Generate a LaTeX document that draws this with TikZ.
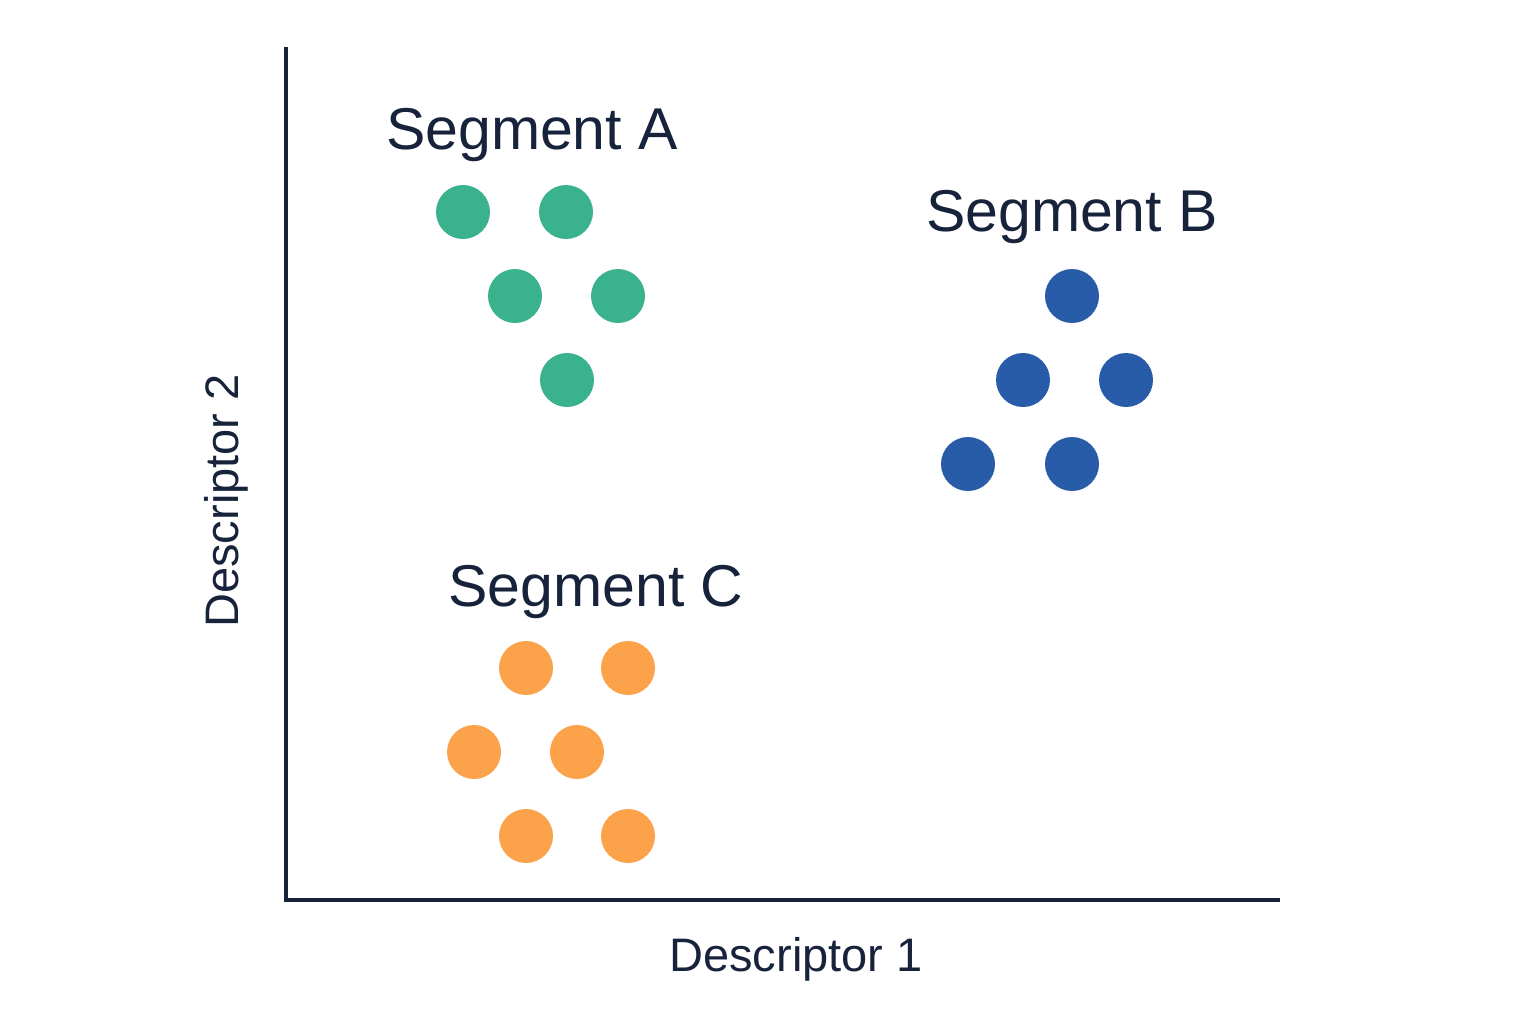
\documentclass[tikz,border=0pt]{standalone}
\usepackage{fontspec}
\setmainfont{Liberation Sans}
\definecolor{ink}{HTML}{17223B}
\definecolor{segA}{HTML}{3BB28E}
\definecolor{segB}{HTML}{285BA8}
\definecolor{segC}{HTML}{FBA24A}
\begin{document}
\begin{tikzpicture}[x=0.5pt,y=-0.5pt,
  dotA/.style={circle,fill=segA,minimum size=27pt,inner sep=0pt},
  dotB/.style={circle,fill=segB,minimum size=27pt,inner sep=0pt},
  dotC/.style={circle,fill=segC,minimum size=27pt,inner sep=0pt},
  seglabel/.style={text=ink,font=\fontsize{29.5}{34}\selectfont,inner sep=0pt},
  axlabel/.style={text=ink,font=\fontsize{23.5}{28}\selectfont,inner sep=0pt},
  axis/.style={draw=ink,line width=1.75pt}]
\useasboundingbox (0,0) rectangle (1536,1024);
\coordinate (top) at (286,47);
\coordinate (origin) at (286,900);
\coordinate (right) at (1280,900);
\draw[axis,line cap=butt] (top) -- (origin) -- (right);
\node[axlabel] (xl) at (796,959) {Descriptor 1};
\node[axlabel,rotate=90] (yl) at (226,501) {Descriptor 2};
\node[seglabel] (la) at (532,135) {Segment A};
\node[seglabel] (lb) at (1072,217) {Segment B};
\node[seglabel] (lc) at (596,592) {Segment C};
\node[dotA] (a1) at (463,212) {};
\node[dotA] (a2) at (566,212) {};
\node[dotA] (a3) at (515,296) {};
\node[dotA] (a4) at (618,296) {};
\node[dotA] (a5) at (567,380) {};
\node[dotB] (b1) at (1072,296) {};
\node[dotB] (b2) at (1023,380) {};
\node[dotB] (b3) at (1126,380) {};
\node[dotB] (b4) at (968,464) {};
\node[dotB] (b5) at (1072,464) {};
\node[dotC] (c1) at (526,668) {};
\node[dotC] (c2) at (628,668) {};
\node[dotC] (c3) at (474,752) {};
\node[dotC] (c4) at (577,752) {};
\node[dotC] (c5) at (526,836) {};
\node[dotC] (c6) at (628,836) {};
\end{tikzpicture}
\end{document}
